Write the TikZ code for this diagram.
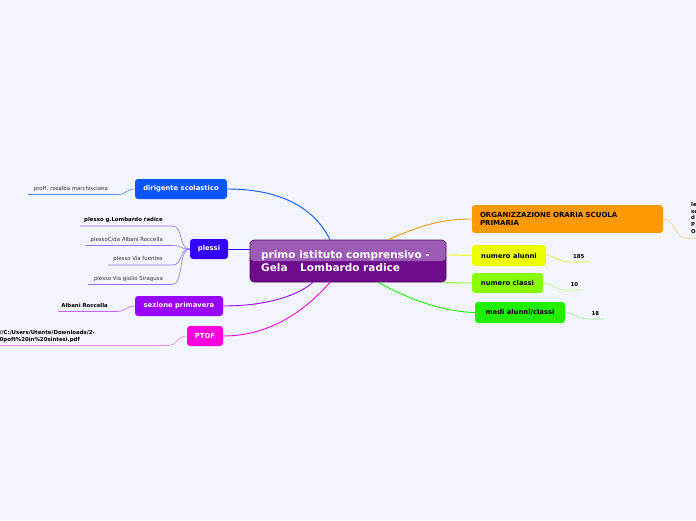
\documentclass[tikz,border=0pt]{standalone}
\usepackage{fontspec}
\setmainfont{DejaVu Sans}
\usetikzlibrary{calc}
\definecolor{bgc}{HTML}{F2F5FD}
\definecolor{dirc}{HTML}{0A55FF}
\definecolor{plc}{HTML}{3300FF}
\definecolor{sezc}{HTML}{9900FF}
\definecolor{ptc}{HTML}{FF00DD}
\definecolor{orgc}{HTML}{FF9900}
\definecolor{alc}{HTML}{EEFF00}
\definecolor{clc}{HTML}{88FF00}
\definecolor{mec}{HTML}{22EE00}
\definecolor{cdark}{HTML}{6E0A8C}
\definecolor{clight}{HTML}{9C5CB6}
\tikzset{
  topic/.style={rounded corners=3pt, inner sep=0pt, minimum height=20pt, align=center,
    font=\fontsize{6.8}{8}\selectfont\bfseries, text=white},
  leaf/.style={inner sep=0pt, font=\fontsize{5.4}{6.5}\selectfont, text=black!80, anchor=base east},
  bleaf/.style={leaf, font=\fontsize{5.4}{6.5}\selectfont\bfseries, text=black},
  conn/.style={line width=0.9pt},
  lconn/.style={line width=0.6pt},
}
\begin{document}
\begin{tikzpicture}[x=1pt,y=-1pt]
\fill[bgc] (0,0) rectangle (696,520);
\useasboundingbox (0,0) rectangle (696,520);
\clip (0,0) rectangle (696,520);

% central node
\node[draw=cdark!70!black, line width=0.6pt, rounded corners=4pt, minimum width=196pt, minimum height=42pt, inner sep=0pt,
  fill=cdark,
  path picture={\fill[clight] ($(path picture bounding box.north west)$) rectangle ($(path picture bounding box.east)$);}]
  (c) at (348,261) {};
\node[anchor=west, align=left, inner sep=0pt, text=white, font=\fontsize{10.5}{12.5}\selectfont\bfseries] (ct) at (261,261)
  {primo istituto comprensivo -\\Gela\hspace{1.2em}Lombardo radice};

% left topics
\node[topic, fill=dirc, minimum width=92pt] (dir) at (181,189) {dirigente scolastico};
\node[topic, fill=plc, minimum width=38pt] (pl) at (209,249) {plessi};
\node[topic, fill=sezc, minimum width=88pt] (sez) at (179,306) {sezione primavera};
\node[topic, fill=ptc, minimum width=36pt] (pt) at (205,336) {PTOF};

% right topics
\node[topic, fill=orgc, minimum width=191pt, minimum height=28pt, text=black, text width=175pt, align=left,
  font=\fontsize{7}{8.5}\selectfont\bfseries] (org) at (567.5,219) {ORGANIZZAZIONE ORARIA SCUOLA\\PRIMARIA};
\node[topic, fill=alc, minimum width=74pt, minimum height=21pt, text=black] (al) at (509,255.5) {numero alunni};
\node[topic, fill=clc, minimum width=71pt, text=black] (cl) at (507.5,283) {numero classi};
\node[topic, fill=mec, minimum width=90pt, minimum height=21pt, text=black] (me) at (520,312.5) {medi alunni/classi};

% main connectors
\draw[conn, dirc] (dir.east) .. controls (290,189) and (318,215) .. ($(c.north)+(-18,0)$);
\draw[conn, plc] (pl.east) -- (c.west |- pl.east);
\draw[conn, sezc] (sez.east) .. controls (270,306) and (300,294) .. ($(c.south)+(-35,0)$);
\draw[conn, ptc] (pt.east) .. controls (275,336) and (310,305) .. ($(c.south)+(-18,0)$);
\draw[conn, orgc] ($(c.north)+(40,0)$) .. controls (420,226) and (440,219) .. (org.west);
\draw[conn, alc] ($(c.east)+(0,-6)$) .. controls (458,255) and (462,255.5) .. (al.west);
\draw[conn, clc] ($(c.south east)+(-2,0)$) .. controls (455,283) and (462,283) .. (cl.west);
\draw[conn, mec] ($(c.south)+(30,0)$) .. controls (410,300) and (445,312) .. (me.west);

% left leaves
\node[leaf] (l1) at (108,190.5) {proff. rosalba marchisciana};
\coordinate (u1) at (28,194.5);
\draw[lconn, dirc!70] (u1) -- (118,194.5) .. controls (126,194.5) and (126,189) .. (dir.west);

\node[bleaf] (p1) at (163,221) {plesso g.Lombardo radice};
\node[leaf] (p2) at (163,241) {plessoC/da Albani Roccella};
\node[leaf] (p3) at (163,260.5) {plesso Via fuentes};
\node[leaf] (p4) at (163,280) {plesso Via giulio Siragusa};
\coordinate (q1) at (80,226);
\coordinate (q2) at (85,245.5);
\coordinate (q3) at (108,265);
\coordinate (q4) at (88,284.5);
\foreach \q in {q1,q2,q3,q4}{
  \draw[lconn, plc!55] (\q) -- (\q -| 172,0) .. controls (\q -| 184,0) and (178,249) .. (pl.west);
}

\node[bleaf] (l2) at (108,307.5) {Albani Roccella};
\coordinate (u2) at (58,311.5);
\draw[lconn, sezc!60] (u2) -- (117,311.5) .. controls (126,311.5) and (126,306) .. (sez.west);

\node[inner sep=0pt, anchor=north west, align=left, font=\fontsize{5.4}{7.2}\selectfont\bfseries] (l3) at (-0.5,330)
  {//C:/Users/Utente/Downloads/2-\\0poft\%20in\%20sintesi.pdf};
\coordinate (u3) at (0,345.5);
\draw[lconn, ptc!50] (u3) -- (168,345.5) .. controls (177,345.5) and (177,336) .. (pt.west);

% right leaves
\node[bleaf, anchor=base west] (r1) at (573,258) {185};
\coordinate (v1) at (590,262);
\draw[lconn, alc!80!black!30!alc] (al.east) .. controls (556,255.5) and (558,262) .. (570,262) -- (v1);

\node[bleaf, anchor=base west] (r2) at (570.5,286) {10};
\coordinate (v2) at (583,290);
\draw[lconn, clc!55] (cl.east) .. controls (553,283) and (555,290) .. (566,290) -- (v2);

\node[bleaf, anchor=base west] (r3) at (591.5,315) {18};
\coordinate (v3) at (604,319);
\draw[lconn, mec!45] (me.east) .. controls (575,312.5) and (577,319) .. (588,319) -- (v3);

\node[inner sep=0pt, anchor=north west, align=left, font=\fontsize{5.4}{6.7}\selectfont\bfseries] (r4) at (691,202)
  {le\\se\\d\\P\\O};
\coordinate (v4) at (696,238);
\draw[lconn, orgc!50] (org.east) .. controls (676,219) and (674,238) .. (686,238) -- (v4);
\end{tikzpicture}
\end{document}
